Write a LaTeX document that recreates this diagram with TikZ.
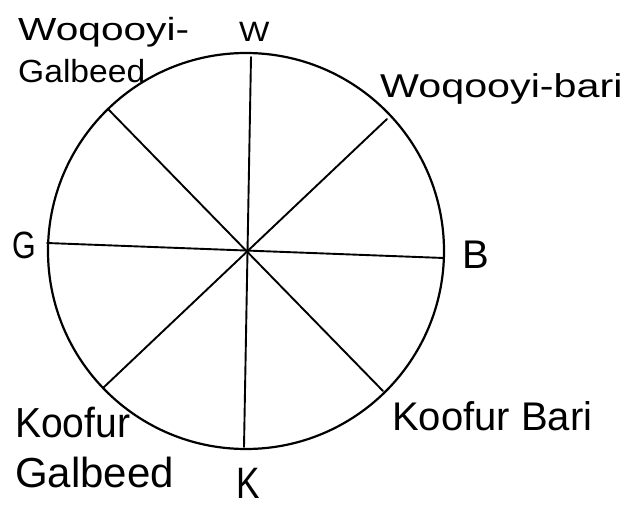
\documentclass[tikz,border=0pt]{standalone}
\usepackage{fontspec}
\setmainfont{Liberation Sans}
\begin{document}
\begin{tikzpicture}[x=1pt,y=-1pt,
  lbl/.style={inner sep=0pt,anchor=base west},
  spoke/.style={line width=1.9pt,line cap=round},
  rim/.style={draw,circle,line width=2.2pt,minimum size=396pt,inner sep=0pt}]
\useasboundingbox (0,0) rectangle (629,506);
\node[rim] (c) at (246,251) {};
\coordinate (n) at (251,57);
\coordinate (s) at (244,447);
\coordinate (w) at (47,243);
\coordinate (e) at (444,258);
\coordinate (nw) at (108,109);
\coordinate (se) at (383,391);
\coordinate (ne) at (387,119);
\coordinate (sw) at (103,388);
\draw[spoke] (n) -- (s);
\draw[spoke] (w) -- (e);
\draw[spoke] (nw) -- (se);
\draw[spoke] (ne) -- (sw);
\node[lbl] (tnw1) at (18,40) {\fontsize{32}{32}\selectfont\scalebox{1.27}[1]{Woqooyi-}};
\node[lbl] (tnw2) at (18,82) {\fontsize{32}{32}\selectfont\scalebox{1.05}[1]{Galbeed}};
\node[lbl] (tn) at (239,41) {\fontsize{28}{28}\selectfont\scalebox{1.15}[1]{W}};
\node[lbl] (tne) at (380,97) {\fontsize{33}{33}\selectfont\scalebox{1.25}[1]{Woqooyi-bari}};
\node[lbl] (tw) at (12,258) {\fontsize{38}{38}\selectfont\scalebox{0.8}[1]{G}};
\node[lbl] (te) at (462,268) {\fontsize{40}{40}\selectfont B};
\node[lbl] (tse) at (392,430) {\fontsize{40}{40}\selectfont Koofur Bari};
\node[lbl] (tsw1) at (15,437) {\fontsize{42}{42}\selectfont\scalebox{0.93}[1]{Koofur}};
\node[lbl] (tsw2) at (15,487) {\fontsize{42}{42}\selectfont Galbeed};
\node[lbl] (ts) at (236,498) {\fontsize{44}{44}\selectfont\scalebox{0.8}[1]{K}};
\end{tikzpicture}
\end{document}
